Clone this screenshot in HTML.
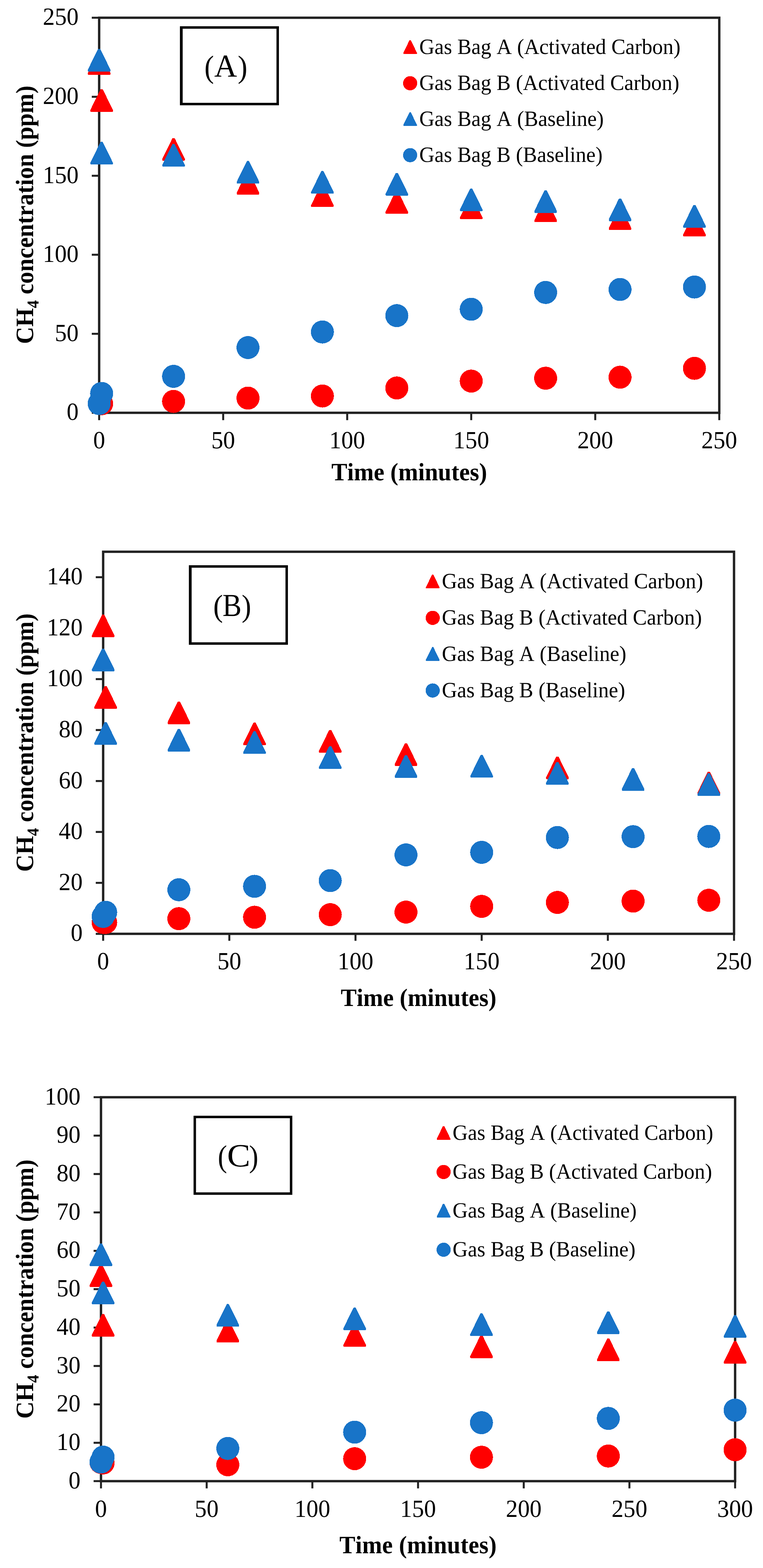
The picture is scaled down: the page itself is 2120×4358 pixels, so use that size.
<!DOCTYPE html>
<html lang="en"><head><meta charset="utf-8"><title>CH4 concentration vs time</title>
<style>html,body{margin:0;padding:0;background:#fff;overflow:hidden}svg{display:block}text{font-family:"Liberation Serif","DejaVu Serif",serif;fill:#000;font-kerning:none;font-variant-ligatures:none;text-rendering:geometricPrecision}.tk{font-size:66.3px}.ti{font-size:66.3px;font-weight:bold}.lg{font-size:58.6px}.lb{font-size:86px}</style></head><body>
<svg width="2120" height="4358" viewBox="0 0 2120 4358">
<rect width="2120" height="4358" fill="#fff"/>
<g id="chartA">
<path d="M255.00 1147.30H275.50M255.00 927.70H275.50M255.00 708.10H275.50M255.00 488.50H275.50M255.00 268.90H275.50M255.00 49.30H275.50M275.50 1147.30V1167.80M620.10 1147.30V1167.80M964.70 1147.30V1167.80M1309.30 1147.30V1167.80M1653.90 1147.30V1167.80M1998.50 1147.30V1167.80" stroke="#222222" stroke-width="5.5" fill="none"/>
<rect x="275.50" y="49.30" width="1723.00" height="1098.00" fill="none" stroke="#222222" stroke-width="6.6"/>
<text class="tk" transform="translate(218.50 1167.30) scale(1 1.036)" text-anchor="end">0</text>
<text class="tk" transform="translate(218.50 947.70) scale(1 1.036)" text-anchor="end">50</text>
<text class="tk" transform="translate(218.50 728.10) scale(1 1.036)" text-anchor="end">100</text>
<text class="tk" transform="translate(218.50 508.50) scale(1 1.036)" text-anchor="end">150</text>
<text class="tk" transform="translate(218.50 288.90) scale(1 1.036)" text-anchor="end">200</text>
<text class="tk" transform="translate(218.50 69.30) scale(1 1.036)" text-anchor="end">250</text>
<text class="tk" transform="translate(275.50 1246.30) scale(1 1.036)" text-anchor="middle">0</text>
<text class="tk" transform="translate(620.10 1246.30) scale(1 1.036)" text-anchor="middle">50</text>
<text class="tk" transform="translate(964.70 1246.30) scale(1 1.036)" text-anchor="middle">100</text>
<text class="tk" transform="translate(1309.30 1246.30) scale(1 1.036)" text-anchor="middle">150</text>
<text class="tk" transform="translate(1653.90 1246.30) scale(1 1.036)" text-anchor="middle">200</text>
<text class="tk" transform="translate(1998.50 1246.30) scale(1 1.036)" text-anchor="middle">250</text>
<text class="ti" transform="translate(1137.00 1334.90) scale(1 1.05)" text-anchor="middle">Time (minutes)</text>
<text class="ti" transform="translate(92.40 596.90) rotate(-90) scale(1 1.05)" text-anchor="middle">CH<tspan font-size="44px" dy="14">4</tspan><tspan dy="-14"> concentration (ppm)</tspan></text>
<rect x="503.30" y="76.40" width="268.30" height="212.80" fill="#fff" stroke="#000" stroke-width="6.8"/>
<rect x="506.50" y="79.80" width="1.20" height="206.00" fill="#000"/>
<g class="lb"><text transform="translate(567.90 214.80) scale(0.9135 1)" font-size="87.35">(</text><text transform="translate(595.34 213.40) scale(0.9859 1)" font-size="88.91">A</text><text transform="translate(660.51 214.80) scale(0.9225 1)" font-size="87.35">)</text></g>
<polygon points="273.10,144.70 277.90,144.70 279.10,146.10 306.80,202.50 306.80,206.40 305.50,207.70 245.50,207.70 244.20,206.40 244.20,202.50 271.90,146.10" fill="#ff0000" shape-rendering="crispEdges"/>
<polygon points="279.99,247.70 284.79,247.70 285.99,249.10 313.69,305.50 313.69,309.40 312.39,310.70 252.39,310.70 251.09,309.40 251.09,305.50 278.79,249.10" fill="#ff0000" shape-rendering="crispEdges"/>
<polygon points="479.86,383.70 484.66,383.70 485.86,385.10 513.56,441.50 513.56,445.40 512.26,446.70 452.26,446.70 450.96,445.40 450.96,441.50 478.66,385.10" fill="#ff0000" shape-rendering="crispEdges"/>
<polygon points="686.62,477.50 691.42,477.50 692.62,478.90 720.32,535.30 720.32,539.20 719.02,540.50 659.02,540.50 657.72,539.20 657.72,535.30 685.42,478.90" fill="#ff0000" shape-rendering="crispEdges"/>
<polygon points="893.38,512.10 898.18,512.10 899.38,513.50 927.08,569.90 927.08,573.80 925.78,575.10 865.78,575.10 864.48,573.80 864.48,569.90 892.18,513.50" fill="#ff0000" shape-rendering="crispEdges"/>
<polygon points="1100.14,530.80 1104.94,530.80 1106.14,532.20 1133.84,588.60 1133.84,592.50 1132.54,593.80 1072.54,593.80 1071.24,592.50 1071.24,588.60 1098.94,532.20" fill="#ff0000" shape-rendering="crispEdges"/>
<polygon points="1306.90,546.10 1311.70,546.10 1312.90,547.50 1340.60,603.90 1340.60,607.80 1339.30,609.10 1279.30,609.10 1278.00,607.80 1278.00,603.90 1305.70,547.50" fill="#ff0000" shape-rendering="crispEdges"/>
<polygon points="1513.66,554.40 1518.46,554.40 1519.66,555.80 1547.36,612.20 1547.36,616.10 1546.06,617.40 1486.06,617.40 1484.76,616.10 1484.76,612.20 1512.46,555.80" fill="#ff0000" shape-rendering="crispEdges"/>
<polygon points="1720.42,576.00 1725.22,576.00 1726.42,577.40 1754.12,633.80 1754.12,637.70 1752.82,639.00 1692.82,639.00 1691.52,637.70 1691.52,633.80 1719.22,577.40" fill="#ff0000" shape-rendering="crispEdges"/>
<polygon points="1927.18,594.10 1931.98,594.10 1933.18,595.50 1960.88,651.90 1960.88,655.80 1959.58,657.10 1899.58,657.10 1898.28,655.80 1898.28,651.90 1925.98,595.50" fill="#ff0000" shape-rendering="crispEdges"/>
<circle cx="282.39" cy="1122.00" r="32" fill="#ff0000" shape-rendering="crispEdges"/>
<circle cx="482.26" cy="1115.60" r="32" fill="#ff0000" shape-rendering="crispEdges"/>
<circle cx="689.02" cy="1106.50" r="32" fill="#ff0000" shape-rendering="crispEdges"/>
<circle cx="895.78" cy="1100.60" r="32" fill="#ff0000" shape-rendering="crispEdges"/>
<circle cx="1102.54" cy="1078.30" r="32" fill="#ff0000" shape-rendering="crispEdges"/>
<circle cx="1309.30" cy="1059.20" r="32" fill="#ff0000" shape-rendering="crispEdges"/>
<circle cx="1516.06" cy="1051.20" r="32" fill="#ff0000" shape-rendering="crispEdges"/>
<circle cx="1722.82" cy="1048.40" r="32" fill="#ff0000" shape-rendering="crispEdges"/>
<circle cx="1929.58" cy="1023.70" r="32" fill="#ff0000" shape-rendering="crispEdges"/>
<polygon points="273.10,135.60 277.90,135.60 279.10,137.00 306.80,193.40 306.80,197.30 305.50,198.60 245.50,198.60 244.20,197.30 244.20,193.40 271.90,137.00" fill="#1874c8" shape-rendering="crispEdges"/>
<polygon points="279.99,394.20 284.79,394.20 285.99,395.60 313.69,452.00 313.69,455.90 312.39,457.20 252.39,457.20 251.09,455.90 251.09,452.00 278.79,395.60" fill="#1874c8" shape-rendering="crispEdges"/>
<polygon points="479.86,400.00 484.66,400.00 485.86,401.40 513.56,457.80 513.56,461.70 512.26,463.00 452.26,463.00 450.96,461.70 450.96,457.80 478.66,401.40" fill="#1874c8" shape-rendering="crispEdges"/>
<polygon points="686.62,447.40 691.42,447.40 692.62,448.80 720.32,505.20 720.32,509.10 719.02,510.40 659.02,510.40 657.72,509.10 657.72,505.20 685.42,448.80" fill="#1874c8" shape-rendering="crispEdges"/>
<polygon points="893.38,475.30 898.18,475.30 899.38,476.70 927.08,533.10 927.08,537.00 925.78,538.30 865.78,538.30 864.48,537.00 864.48,533.10 892.18,476.70" fill="#1874c8" shape-rendering="crispEdges"/>
<polygon points="1100.14,480.50 1104.94,480.50 1106.14,481.90 1133.84,538.30 1133.84,542.20 1132.54,543.50 1072.54,543.50 1071.24,542.20 1071.24,538.30 1098.94,481.90" fill="#1874c8" shape-rendering="crispEdges"/>
<polygon points="1306.90,524.10 1311.70,524.10 1312.90,525.50 1340.60,581.90 1340.60,585.80 1339.30,587.10 1279.30,587.10 1278.00,585.80 1278.00,581.90 1305.70,525.50" fill="#1874c8" shape-rendering="crispEdges"/>
<polygon points="1513.66,528.50 1518.46,528.50 1519.66,529.90 1547.36,586.30 1547.36,590.20 1546.06,591.50 1486.06,591.50 1484.76,590.20 1484.76,586.30 1512.46,529.90" fill="#1874c8" shape-rendering="crispEdges"/>
<polygon points="1720.42,551.50 1725.22,551.50 1726.42,552.90 1754.12,609.30 1754.12,613.20 1752.82,614.50 1692.82,614.50 1691.52,613.20 1691.52,609.30 1719.22,552.90" fill="#1874c8" shape-rendering="crispEdges"/>
<polygon points="1927.18,569.70 1931.98,569.70 1933.18,571.10 1960.88,627.50 1960.88,631.40 1959.58,632.70 1899.58,632.70 1898.28,631.40 1898.28,627.50 1925.98,571.10" fill="#1874c8" shape-rendering="crispEdges"/>
<circle cx="275.50" cy="1121.60" r="32" fill="#1874c8" shape-rendering="crispEdges"/>
<circle cx="282.39" cy="1093.50" r="32" fill="#1874c8" shape-rendering="crispEdges"/>
<circle cx="482.26" cy="1046.00" r="32" fill="#1874c8" shape-rendering="crispEdges"/>
<circle cx="689.02" cy="966.00" r="32" fill="#1874c8" shape-rendering="crispEdges"/>
<circle cx="895.78" cy="922.70" r="32" fill="#1874c8" shape-rendering="crispEdges"/>
<circle cx="1102.54" cy="877.20" r="32" fill="#1874c8" shape-rendering="crispEdges"/>
<circle cx="1309.30" cy="859.50" r="32" fill="#1874c8" shape-rendering="crispEdges"/>
<circle cx="1516.06" cy="812.80" r="32" fill="#1874c8" shape-rendering="crispEdges"/>
<circle cx="1722.82" cy="804.50" r="32" fill="#1874c8" shape-rendering="crispEdges"/>
<circle cx="1929.58" cy="797.70" r="32" fill="#1874c8" shape-rendering="crispEdges"/>
<polygon points="1138.14,111.65 1141.06,111.65 1141.79,112.50 1158.50,146.79 1158.50,149.16 1157.71,149.95 1121.49,149.95 1120.70,149.16 1120.70,146.79 1137.41,112.50" fill="#ff0000" shape-rendering="crispEdges"/>
<text class="lg" transform="translate(1165.00 149.70) scale(1 1.036)">Gas Bag A (Activated Carbon)</text>
<circle cx="1139.60" cy="231.30" r="19.7" fill="#ff0000" shape-rendering="crispEdges"/>
<text class="lg" transform="translate(1165.00 250.20) scale(1 1.036)">Gas Bag B (Activated Carbon)</text>
<polygon points="1138.14,311.85 1141.06,311.85 1141.79,312.70 1158.50,346.99 1158.50,349.36 1157.71,350.15 1121.49,350.15 1120.70,349.36 1120.70,346.99 1137.41,312.70" fill="#1874c8" shape-rendering="crispEdges"/>
<text class="lg" transform="translate(1165.00 349.90) scale(1 1.036)">Gas Bag A (Baseline)</text>
<circle cx="1139.60" cy="431.20" r="19.7" fill="#1874c8" shape-rendering="crispEdges"/>
<text class="lg" transform="translate(1165.00 450.10) scale(1 1.036)">Gas Bag B (Baseline)</text>
</g>
<g id="chartB">
<path d="M266.10 2595.40H286.60M266.10 2453.81H286.60M266.10 2312.23H286.60M266.10 2170.64H286.60M266.10 2029.05H286.60M266.10 1887.47H286.60M266.10 1745.88H286.60M266.10 1604.29H286.60M286.60 2595.40V2614.70M637.18 2595.40V2614.70M987.76 2595.40V2614.70M1338.34 2595.40V2614.70M1688.92 2595.40V2614.70M2039.50 2595.40V2614.70" stroke="#222222" stroke-width="5.5" fill="none"/>
<rect x="286.60" y="1533.50" width="1752.90" height="1061.90" fill="none" stroke="#222222" stroke-width="6.6"/>
<text class="tk" transform="translate(229.60 2615.40) scale(1 1.036)" text-anchor="end">0</text>
<text class="tk" transform="translate(229.60 2473.81) scale(1 1.036)" text-anchor="end">20</text>
<text class="tk" transform="translate(229.60 2332.23) scale(1 1.036)" text-anchor="end">40</text>
<text class="tk" transform="translate(229.60 2190.64) scale(1 1.036)" text-anchor="end">60</text>
<text class="tk" transform="translate(229.60 2049.05) scale(1 1.036)" text-anchor="end">80</text>
<text class="tk" transform="translate(229.60 1907.47) scale(1 1.036)" text-anchor="end">100</text>
<text class="tk" transform="translate(229.60 1765.88) scale(1 1.036)" text-anchor="end">120</text>
<text class="tk" transform="translate(229.60 1624.29) scale(1 1.036)" text-anchor="end">140</text>
<text class="tk" transform="translate(286.60 2693.80) scale(1 1.036)" text-anchor="middle">0</text>
<text class="tk" transform="translate(637.18 2693.80) scale(1 1.036)" text-anchor="middle">50</text>
<text class="tk" transform="translate(987.76 2693.80) scale(1 1.036)" text-anchor="middle">100</text>
<text class="tk" transform="translate(1338.34 2693.80) scale(1 1.036)" text-anchor="middle">150</text>
<text class="tk" transform="translate(1688.92 2693.80) scale(1 1.036)" text-anchor="middle">200</text>
<text class="tk" transform="translate(2039.50 2693.80) scale(1 1.036)" text-anchor="middle">250</text>
<text class="ti" transform="translate(1163.05 2795.50) scale(1 1.05)" text-anchor="middle">Time (minutes)</text>
<text class="ti" transform="translate(92.40 2063.95) rotate(-90) scale(1 1.05)" text-anchor="middle">CH<tspan font-size="44px" dy="14">4</tspan><tspan dy="-14"> concentration (ppm)</tspan></text>
<rect x="528.20" y="1574.40" width="268.40" height="214.20" fill="#fff" stroke="#000" stroke-width="6.8"/>
<rect x="531.40" y="1577.80" width="1.20" height="207.40" fill="#000"/>
<g class="lb"><text transform="translate(592.55 1712.69) scale(0.9364 1)" font-size="86.47">(</text><text transform="translate(618.32 1712.24) scale(0.8893 1)" font-size="89.10">B</text><text transform="translate(671.46 1712.69) scale(0.9139 1)" font-size="86.47">)</text></g>
<polygon points="284.20,1708.20 289.00,1708.20 290.20,1709.60 317.90,1766.00 317.90,1769.90 316.60,1771.20 256.60,1771.20 255.30,1769.90 255.30,1766.00 283.00,1709.60" fill="#ff0000" shape-rendering="crispEdges"/>
<polygon points="291.21,1906.90 296.01,1906.90 297.21,1908.30 324.91,1964.70 324.91,1968.60 323.61,1969.90 263.61,1969.90 262.31,1968.60 262.31,1964.70 290.01,1908.30" fill="#ff0000" shape-rendering="crispEdges"/>
<polygon points="494.55,1949.50 499.35,1949.50 500.55,1950.90 528.25,2007.30 528.25,2011.20 526.95,2012.50 466.95,2012.50 465.65,2011.20 465.65,2007.30 493.35,1950.90" fill="#ff0000" shape-rendering="crispEdges"/>
<polygon points="704.90,2008.40 709.70,2008.40 710.90,2009.80 738.60,2066.20 738.60,2070.10 737.30,2071.40 677.30,2071.40 676.00,2070.10 676.00,2066.20 703.70,2009.80" fill="#ff0000" shape-rendering="crispEdges"/>
<polygon points="915.24,2028.80 920.04,2028.80 921.24,2030.20 948.94,2086.60 948.94,2090.50 947.64,2091.80 887.64,2091.80 886.34,2090.50 886.34,2086.60 914.04,2030.20" fill="#ff0000" shape-rendering="crispEdges"/>
<polygon points="1125.59,2065.60 1130.39,2065.60 1131.59,2067.00 1159.29,2123.40 1159.29,2127.30 1157.99,2128.60 1097.99,2128.60 1096.69,2127.30 1096.69,2123.40 1124.39,2067.00" fill="#ff0000" shape-rendering="crispEdges"/>
<polygon points="1335.94,2098.00 1340.74,2098.00 1341.94,2099.40 1369.64,2155.80 1369.64,2159.70 1368.34,2161.00 1308.34,2161.00 1307.04,2159.70 1307.04,2155.80 1334.74,2099.40" fill="#ff0000" shape-rendering="crispEdges"/>
<polygon points="1546.29,2102.50 1551.09,2102.50 1552.29,2103.90 1579.99,2160.30 1579.99,2164.20 1578.69,2165.50 1518.69,2165.50 1517.39,2164.20 1517.39,2160.30 1545.09,2103.90" fill="#ff0000" shape-rendering="crispEdges"/>
<polygon points="1756.64,2135.00 1761.44,2135.00 1762.64,2136.40 1790.34,2192.80 1790.34,2196.70 1789.04,2198.00 1729.04,2198.00 1727.74,2196.70 1727.74,2192.80 1755.44,2136.40" fill="#ff0000" shape-rendering="crispEdges"/>
<polygon points="1966.98,2144.80 1971.78,2144.80 1972.98,2146.20 2000.68,2202.60 2000.68,2206.50 1999.38,2207.80 1939.38,2207.80 1938.08,2206.50 1938.08,2202.60 1965.78,2146.20" fill="#ff0000" shape-rendering="crispEdges"/>
<circle cx="286.60" cy="2563.80" r="32" fill="#ff0000" shape-rendering="crispEdges"/>
<circle cx="293.61" cy="2563.80" r="32" fill="#ff0000" shape-rendering="crispEdges"/>
<circle cx="496.95" cy="2553.20" r="32" fill="#ff0000" shape-rendering="crispEdges"/>
<circle cx="707.30" cy="2549.30" r="32" fill="#ff0000" shape-rendering="crispEdges"/>
<circle cx="917.64" cy="2542.10" r="32" fill="#ff0000" shape-rendering="crispEdges"/>
<circle cx="1127.99" cy="2535.00" r="32" fill="#ff0000" shape-rendering="crispEdges"/>
<circle cx="1338.34" cy="2519.10" r="32" fill="#ff0000" shape-rendering="crispEdges"/>
<circle cx="1548.69" cy="2508.10" r="32" fill="#ff0000" shape-rendering="crispEdges"/>
<circle cx="1759.04" cy="2504.50" r="32" fill="#ff0000" shape-rendering="crispEdges"/>
<circle cx="1969.38" cy="2502.10" r="32" fill="#ff0000" shape-rendering="crispEdges"/>
<polygon points="284.20,1802.50 289.00,1802.50 290.20,1803.90 317.90,1860.30 317.90,1864.20 316.60,1865.50 256.60,1865.50 255.30,1864.20 255.30,1860.30 283.00,1803.90" fill="#1874c8" shape-rendering="crispEdges"/>
<polygon points="291.21,2007.00 296.01,2007.00 297.21,2008.40 324.91,2064.80 324.91,2068.70 323.61,2070.00 263.61,2070.00 262.31,2068.70 262.31,2064.80 290.01,2008.40" fill="#1874c8" shape-rendering="crispEdges"/>
<polygon points="494.55,2025.70 499.35,2025.70 500.55,2027.10 528.25,2083.50 528.25,2087.40 526.95,2088.70 466.95,2088.70 465.65,2087.40 465.65,2083.50 493.35,2027.10" fill="#1874c8" shape-rendering="crispEdges"/>
<polygon points="704.90,2032.40 709.70,2032.40 710.90,2033.80 738.60,2090.20 738.60,2094.10 737.30,2095.40 677.30,2095.40 676.00,2094.10 676.00,2090.20 703.70,2033.80" fill="#1874c8" shape-rendering="crispEdges"/>
<polygon points="915.24,2073.80 920.04,2073.80 921.24,2075.20 948.94,2131.60 948.94,2135.50 947.64,2136.80 887.64,2136.80 886.34,2135.50 886.34,2131.60 914.04,2075.20" fill="#1874c8" shape-rendering="crispEdges"/>
<polygon points="1125.59,2098.70 1130.39,2098.70 1131.59,2100.10 1159.29,2156.50 1159.29,2160.40 1157.99,2161.70 1097.99,2161.70 1096.69,2160.40 1096.69,2156.50 1124.39,2100.10" fill="#1874c8" shape-rendering="crispEdges"/>
<polygon points="1335.94,2098.00 1340.74,2098.00 1341.94,2099.40 1369.64,2155.80 1369.64,2159.70 1368.34,2161.00 1308.34,2161.00 1307.04,2159.70 1307.04,2155.80 1334.74,2099.40" fill="#1874c8" shape-rendering="crispEdges"/>
<polygon points="1546.29,2117.80 1551.09,2117.80 1552.29,2119.20 1579.99,2175.60 1579.99,2179.50 1578.69,2180.80 1518.69,2180.80 1517.39,2179.50 1517.39,2175.60 1545.09,2119.20" fill="#1874c8" shape-rendering="crispEdges"/>
<polygon points="1756.64,2135.00 1761.44,2135.00 1762.64,2136.40 1790.34,2192.80 1790.34,2196.70 1789.04,2198.00 1729.04,2198.00 1727.74,2196.70 1727.74,2192.80 1755.44,2136.40" fill="#1874c8" shape-rendering="crispEdges"/>
<polygon points="1966.98,2148.80 1971.78,2148.80 1972.98,2150.20 2000.68,2206.60 2000.68,2210.50 1999.38,2211.80 1939.38,2211.80 1938.08,2210.50 1938.08,2206.60 1965.78,2150.20" fill="#1874c8" shape-rendering="crispEdges"/>
<circle cx="286.60" cy="2547.00" r="32" fill="#1874c8" shape-rendering="crispEdges"/>
<circle cx="293.61" cy="2535.50" r="32" fill="#1874c8" shape-rendering="crispEdges"/>
<circle cx="496.95" cy="2472.90" r="32" fill="#1874c8" shape-rendering="crispEdges"/>
<circle cx="707.30" cy="2463.40" r="32" fill="#1874c8" shape-rendering="crispEdges"/>
<circle cx="917.64" cy="2447.50" r="32" fill="#1874c8" shape-rendering="crispEdges"/>
<circle cx="1127.99" cy="2376.00" r="32" fill="#1874c8" shape-rendering="crispEdges"/>
<circle cx="1338.34" cy="2369.00" r="32" fill="#1874c8" shape-rendering="crispEdges"/>
<circle cx="1548.69" cy="2327.70" r="32" fill="#1874c8" shape-rendering="crispEdges"/>
<circle cx="1759.04" cy="2325.30" r="32" fill="#1874c8" shape-rendering="crispEdges"/>
<circle cx="1969.38" cy="2324.70" r="32" fill="#1874c8" shape-rendering="crispEdges"/>
<polygon points="1200.84,1597.05 1203.76,1597.05 1204.49,1597.90 1221.20,1632.19 1221.20,1634.56 1220.41,1635.35 1184.19,1635.35 1183.40,1634.56 1183.40,1632.19 1200.11,1597.90" fill="#ff0000" shape-rendering="crispEdges"/>
<text class="lg" transform="translate(1227.80 1635.10) scale(1 1.036)">Gas Bag A (Activated Carbon)</text>
<circle cx="1202.30" cy="1717.20" r="19.7" fill="#ff0000" shape-rendering="crispEdges"/>
<text class="lg" transform="translate(1227.80 1736.10) scale(1 1.036)">Gas Bag B (Activated Carbon)</text>
<polygon points="1200.84,1798.45 1203.76,1798.45 1204.49,1799.30 1221.20,1833.59 1221.20,1835.96 1220.41,1836.75 1184.19,1836.75 1183.40,1835.96 1183.40,1833.59 1200.11,1799.30" fill="#1874c8" shape-rendering="crispEdges"/>
<text class="lg" transform="translate(1227.80 1836.50) scale(1 1.036)">Gas Bag A (Baseline)</text>
<circle cx="1202.30" cy="1919.10" r="19.7" fill="#1874c8" shape-rendering="crispEdges"/>
<text class="lg" transform="translate(1227.80 1938.00) scale(1 1.036)">Gas Bag B (Baseline)</text>
</g>
<g id="chartC">
<path d="M260.10 4116.60H280.60M260.10 4009.90H280.60M260.10 3903.20H280.60M260.10 3796.50H280.60M260.10 3689.80H280.60M260.10 3583.10H280.60M260.10 3476.40H280.60M260.10 3369.70H280.60M260.10 3263.00H280.60M260.10 3156.30H280.60M260.10 3049.60H280.60M280.60 4116.60V4136.80M574.25 4116.60V4136.80M867.90 4116.60V4136.80M1161.55 4116.60V4136.80M1455.20 4116.60V4136.80M1748.85 4116.60V4136.80M2042.50 4116.60V4136.80" stroke="#222222" stroke-width="5.5" fill="none"/>
<rect x="280.60" y="3049.60" width="1761.90" height="1067.00" fill="none" stroke="#222222" stroke-width="6.6"/>
<text class="tk" transform="translate(223.60 4136.60) scale(1 1.036)" text-anchor="end">0</text>
<text class="tk" transform="translate(223.60 4029.90) scale(1 1.036)" text-anchor="end">10</text>
<text class="tk" transform="translate(223.60 3923.20) scale(1 1.036)" text-anchor="end">20</text>
<text class="tk" transform="translate(223.60 3816.50) scale(1 1.036)" text-anchor="end">30</text>
<text class="tk" transform="translate(223.60 3709.80) scale(1 1.036)" text-anchor="end">40</text>
<text class="tk" transform="translate(223.60 3603.10) scale(1 1.036)" text-anchor="end">50</text>
<text class="tk" transform="translate(223.60 3496.40) scale(1 1.036)" text-anchor="end">60</text>
<text class="tk" transform="translate(223.60 3389.70) scale(1 1.036)" text-anchor="end">70</text>
<text class="tk" transform="translate(223.60 3283.00) scale(1 1.036)" text-anchor="end">80</text>
<text class="tk" transform="translate(223.60 3176.30) scale(1 1.036)" text-anchor="end">90</text>
<text class="tk" transform="translate(223.60 3069.60) scale(1 1.036)" text-anchor="end">100</text>
<text class="tk" transform="translate(280.60 4216.30) scale(1 1.036)" text-anchor="middle">0</text>
<text class="tk" transform="translate(574.25 4216.30) scale(1 1.036)" text-anchor="middle">50</text>
<text class="tk" transform="translate(867.90 4216.30) scale(1 1.036)" text-anchor="middle">100</text>
<text class="tk" transform="translate(1161.55 4216.30) scale(1 1.036)" text-anchor="middle">150</text>
<text class="tk" transform="translate(1455.20 4216.30) scale(1 1.036)" text-anchor="middle">200</text>
<text class="tk" transform="translate(1748.85 4216.30) scale(1 1.036)" text-anchor="middle">250</text>
<text class="tk" transform="translate(2042.50 4216.30) scale(1 1.036)" text-anchor="middle">300</text>
<text class="ti" transform="translate(1161.55 4316.80) scale(1 1.05)" text-anchor="middle" letter-spacing="0.3">Time (minutes)</text>
<text class="ti" transform="translate(92.40 3582.70) rotate(-90) scale(1 1.05)" text-anchor="middle" letter-spacing="0.1">CH<tspan font-size="44px" dy="14">4</tspan><tspan dy="-14"> concentration (ppm)</tspan></text>
<rect x="541.20" y="3104.40" width="267.60" height="213.00" fill="#fff" stroke="#000" stroke-width="6.8"/>
<g class="lb"><text transform="translate(605.22 3242.69) scale(0.8914 1)" font-size="86.47">(</text><text transform="translate(631.04 3242.42) scale(1.0722 1)" font-size="90.19">C</text><text transform="translate(691.92 3242.69) scale(0.8914 1)" font-size="86.47">)</text></g>
<polygon points="278.20,3513.80 283.00,3513.80 284.20,3515.20 311.90,3571.60 311.90,3575.50 310.60,3576.80 250.60,3576.80 249.30,3575.50 249.30,3571.60 277.00,3515.20" fill="#ff0000" shape-rendering="crispEdges"/>
<polygon points="284.07,3652.20 288.87,3652.20 290.07,3653.60 317.77,3710.00 317.77,3713.90 316.47,3715.20 256.47,3715.20 255.17,3713.90 255.17,3710.00 282.87,3653.60" fill="#ff0000" shape-rendering="crispEdges"/>
<polygon points="630.58,3668.00 635.38,3668.00 636.58,3669.40 664.28,3725.80 664.28,3729.70 662.98,3731.00 602.98,3731.00 601.68,3729.70 601.68,3725.80 629.38,3669.40" fill="#ff0000" shape-rendering="crispEdges"/>
<polygon points="982.96,3680.00 987.76,3680.00 988.96,3681.40 1016.66,3737.80 1016.66,3741.70 1015.36,3743.00 955.36,3743.00 954.06,3741.70 954.06,3737.80 981.76,3681.40" fill="#ff0000" shape-rendering="crispEdges"/>
<polygon points="1335.34,3711.60 1340.14,3711.60 1341.34,3713.00 1369.04,3769.40 1369.04,3773.30 1367.74,3774.60 1307.74,3774.60 1306.44,3773.30 1306.44,3769.40 1334.14,3713.00" fill="#ff0000" shape-rendering="crispEdges"/>
<polygon points="1687.72,3720.20 1692.52,3720.20 1693.72,3721.60 1721.42,3778.00 1721.42,3781.90 1720.12,3783.20 1660.12,3783.20 1658.82,3781.90 1658.82,3778.00 1686.52,3721.60" fill="#ff0000" shape-rendering="crispEdges"/>
<polygon points="2040.10,3726.90 2044.90,3726.90 2046.10,3728.30 2073.80,3784.70 2073.80,3788.60 2072.50,3789.90 2012.50,3789.90 2011.20,3788.60 2011.20,3784.70 2038.90,3728.30" fill="#ff0000" shape-rendering="crispEdges"/>
<circle cx="280.60" cy="4064.50" r="32" fill="#ff0000" shape-rendering="crispEdges"/>
<circle cx="286.47" cy="4066.00" r="32" fill="#ff0000" shape-rendering="crispEdges"/>
<circle cx="632.98" cy="4071.10" r="32" fill="#ff0000" shape-rendering="crispEdges"/>
<circle cx="985.36" cy="4054.20" r="32" fill="#ff0000" shape-rendering="crispEdges"/>
<circle cx="1337.74" cy="4050.10" r="32" fill="#ff0000" shape-rendering="crispEdges"/>
<circle cx="1690.12" cy="4046.80" r="32" fill="#ff0000" shape-rendering="crispEdges"/>
<circle cx="2042.50" cy="4029.30" r="32" fill="#ff0000" shape-rendering="crispEdges"/>
<polygon points="278.20,3455.80 283.00,3455.80 284.20,3457.20 311.90,3513.60 311.90,3517.50 310.60,3518.80 250.60,3518.80 249.30,3517.50 249.30,3513.60 277.00,3457.20" fill="#1874c8" shape-rendering="crispEdges"/>
<polygon points="284.07,3562.00 288.87,3562.00 290.07,3563.40 317.77,3619.80 317.77,3623.70 316.47,3625.00 256.47,3625.00 255.17,3623.70 255.17,3619.80 282.87,3563.40" fill="#1874c8" shape-rendering="crispEdges"/>
<polygon points="630.58,3624.40 635.38,3624.40 636.58,3625.80 664.28,3682.20 664.28,3686.10 662.98,3687.40 602.98,3687.40 601.68,3686.10 601.68,3682.20 629.38,3625.80" fill="#1874c8" shape-rendering="crispEdges"/>
<polygon points="982.96,3634.00 987.76,3634.00 988.96,3635.40 1016.66,3691.80 1016.66,3695.70 1015.36,3697.00 955.36,3697.00 954.06,3695.70 954.06,3691.80 981.76,3635.40" fill="#1874c8" shape-rendering="crispEdges"/>
<polygon points="1335.34,3650.30 1340.14,3650.30 1341.34,3651.70 1369.04,3708.10 1369.04,3712.00 1367.74,3713.30 1307.74,3713.30 1306.44,3712.00 1306.44,3708.10 1334.14,3651.70" fill="#1874c8" shape-rendering="crispEdges"/>
<polygon points="1687.72,3644.50 1692.52,3644.50 1693.72,3645.90 1721.42,3702.30 1721.42,3706.20 1720.12,3707.50 1660.12,3707.50 1658.82,3706.20 1658.82,3702.30 1686.52,3645.90" fill="#1874c8" shape-rendering="crispEdges"/>
<polygon points="2040.10,3655.10 2044.90,3655.10 2046.10,3656.50 2073.80,3712.90 2073.80,3716.80 2072.50,3718.10 2012.50,3718.10 2011.20,3716.80 2011.20,3712.90 2038.90,3656.50" fill="#1874c8" shape-rendering="crispEdges"/>
<circle cx="280.60" cy="4063.50" r="32" fill="#1874c8" shape-rendering="crispEdges"/>
<circle cx="286.47" cy="4049.80" r="32" fill="#1874c8" shape-rendering="crispEdges"/>
<circle cx="632.98" cy="4025.70" r="32" fill="#1874c8" shape-rendering="crispEdges"/>
<circle cx="985.36" cy="3980.50" r="32" fill="#1874c8" shape-rendering="crispEdges"/>
<circle cx="1337.74" cy="3954.10" r="32" fill="#1874c8" shape-rendering="crispEdges"/>
<circle cx="1690.12" cy="3942.20" r="32" fill="#1874c8" shape-rendering="crispEdges"/>
<circle cx="2042.50" cy="3919.20" r="32" fill="#1874c8" shape-rendering="crispEdges"/>
<polygon points="1231.14,3129.55 1234.06,3129.55 1234.79,3130.40 1251.50,3164.69 1251.50,3167.06 1250.71,3167.85 1214.49,3167.85 1213.70,3167.06 1213.70,3164.69 1230.41,3130.40" fill="#ff0000" shape-rendering="crispEdges"/>
<text class="lg" transform="translate(1257.60 3167.60) scale(1 1.036)" style="font-size:58.47px">Gas Bag A (Activated Carbon)</text>
<circle cx="1232.60" cy="3257.30" r="19.7" fill="#ff0000" shape-rendering="crispEdges"/>
<text class="lg" transform="translate(1257.60 3276.20) scale(1 1.036)" style="font-size:58.47px">Gas Bag B (Activated Carbon)</text>
<polygon points="1231.14,3345.75 1234.06,3345.75 1234.79,3346.60 1251.50,3380.89 1251.50,3383.26 1250.71,3384.05 1214.49,3384.05 1213.70,3383.26 1213.70,3380.89 1230.41,3346.60" fill="#1874c8" shape-rendering="crispEdges"/>
<text class="lg" transform="translate(1257.60 3383.80) scale(1 1.036)" style="font-size:58.47px">Gas Bag A (Baseline)</text>
<circle cx="1232.60" cy="3473.50" r="19.7" fill="#1874c8" shape-rendering="crispEdges"/>
<text class="lg" transform="translate(1257.60 3492.40) scale(1 1.036)" style="font-size:58.47px">Gas Bag B (Baseline)</text>
</g>
</svg></body></html>
